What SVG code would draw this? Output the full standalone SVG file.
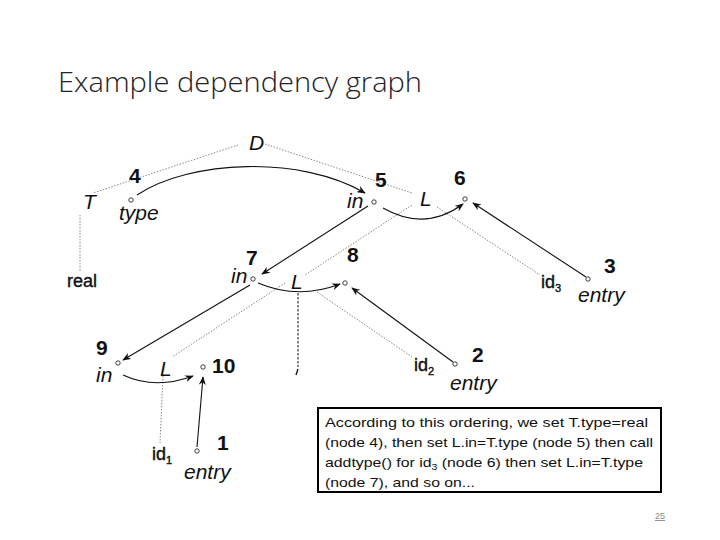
<svg xmlns="http://www.w3.org/2000/svg" width="720" height="540" viewBox="0 0 720 540">
<style>
.title{font-family:"Open Sans","Liberation Sans",sans-serif;font-weight:300;font-size:28px;fill:#222}
.it{font-family:"Liberation Sans","DejaVu Sans",sans-serif;font-style:italic;font-size:21px;fill:#111}
.num{font-family:"Liberation Sans","DejaVu Sans",sans-serif;font-weight:bold;font-size:21px;fill:#111}
.id{font-family:"Liberation Sans","DejaVu Sans",sans-serif;font-size:18px;fill:#111;stroke:#111;stroke-width:0.4}
.sub{font-size:11px}
.box{font-family:"Liberation Sans","DejaVu Sans",sans-serif;font-size:13.5px;fill:#111}
.dot{fill:none;stroke:#888;stroke-width:1;stroke-dasharray:1.5 1.5}
.arr{fill:none;stroke:#111;stroke-width:1.1;marker-end:url(#ah)}
.att{fill:#fff;stroke:#111;stroke-width:0.8}
</style>
<defs>
<marker id="ah" viewBox="0 0 10 8" refX="9" refY="4" markerWidth="9" markerHeight="7" orient="auto" markerUnits="userSpaceOnUse">
<path d="M0,0 L10,4 L0,8 L3,4 z" fill="#111"/>
</marker>
</defs>
<rect width="720" height="540" fill="#fff"/>
<text class="title" x="58" y="92" textLength="364" lengthAdjust="spacingAndGlyphs">Example dependency graph</text>

<g id="connectors">
<path class="dot" d="M238,145 L93,193"/>
<path class="dot" d="M80,215 L80,272"/>
<path class="dot" d="M265,144 L412,193"/>
<path class="dot" d="M437,207 L540,275"/>
<path class="dot" d="M412,205 L305,275"/>
<path class="dot" d="M317,292 L412,357"/>
<path class="dot" d="M285,283 L172,357"/>
<path class="dot" d="M163,376 L160,443"/>
<path d="M298,293 L298,367" fill="none" stroke="#111" stroke-width="1" stroke-dasharray="2.5 1.5"/>
<path d="M298,369 L296,375" fill="none" stroke="#111" stroke-width="1.3"/>
<path class="arr" d="M137,195 C190,160 300,155 365,193"/>
<path class="arr" d="M383,208 Q425,232 463,204"/>
<path class="arr" d="M586,277 L473,203"/>
<path class="arr" d="M368,206 L262,274"/>
<path class="arr" d="M258,283 Q298,300 340,284"/>
<path class="arr" d="M453,362 L352,288"/>
<path class="arr" d="M250,285 L123,360"/>
<path class="arr" d="M123,375 Q155,390 193,376"/>
<path class="arr" d="M197,447 L203,377"/>
</g>

<g id="D"><text class="it" x="249" y="150">D</text></g>
<g id="T"><text class="it" x="83" y="209">T</text></g>
<g id="n4"><text class="num" x="129" y="183">4</text><circle class="att" cx="131" cy="200" r="2.2"/><text class="it" x="119" y="220" font-size="19">type</text></g>
<g id="real"><text class="id" x="67" y="287">real</text></g>
<g id="n5"><text class="num" x="375" y="187">5</text><text class="it" x="347" y="208" font-size="20">in</text><circle class="att" cx="374" cy="202" r="2.2"/></g>
<g id="L1"><text class="it" x="420" y="206">L</text></g>
<g id="n6"><text class="num" x="454" y="185">6</text><circle class="att" cx="465" cy="199" r="2.2"/></g>
<g id="id3"><text class="id" x="541" y="288">id<tspan class="sub" dy="4">3</tspan></text></g>
<g id="n3"><text class="num" x="604" y="273">3</text><circle class="att" cx="588" cy="279" r="2.2"/><text class="it" x="578" y="302" font-size="20">entry</text></g>
<g id="n7"><text class="num" x="246" y="265">7</text><text class="it" x="231" y="283" font-size="20">in</text><circle class="att" cx="253" cy="279" r="2.2"/></g>
<g id="L2"><text class="it" x="291" y="289">L</text></g>
<g id="n8"><text class="num" x="347" y="262">8</text><circle class="att" cx="345" cy="283" r="2.2"/></g>
<g id="id2"><text class="id" x="414" y="371">id<tspan class="sub" dy="4">2</tspan></text></g>
<g id="n2"><text class="num" x="472" y="362">2</text><circle class="att" cx="455" cy="364" r="2.2"/><text class="it" x="450" y="390" font-size="20">entry</text></g>
<g id="n9"><text class="num" x="96" y="355">9</text><text class="it" x="96" y="382" font-size="20">in</text><circle class="att" cx="118" cy="363" r="2.2"/></g>
<g id="L3"><text class="it" x="160" y="376">L</text></g>
<g id="n10"><text class="num" x="212" y="373">10</text><circle class="att" cx="203" cy="367" r="2.2"/></g>
<g id="id1"><text class="id" x="152" y="460">id<tspan class="sub" dy="4">1</tspan></text></g>
<g id="n1"><text class="num" x="217" y="450">1</text><circle class="att" cx="197" cy="451" r="2.2"/><text class="it" x="184" y="479" font-size="20">entry</text></g>

<g id="note">
<rect x="318" y="408" width="343" height="84" fill="#fff" stroke="#000" stroke-width="2"/>
<text class="box" x="325" y="427" textLength="323" lengthAdjust="spacingAndGlyphs">According to this ordering, we set T.type=real</text>
<text class="box" x="325" y="447" textLength="328" lengthAdjust="spacingAndGlyphs">(node 4), then set L.in=T.type (node 5) then call</text>
<text class="box" x="325" y="467" textLength="318" lengthAdjust="spacingAndGlyphs">addtype() for id<tspan font-size="9" dy="3">3</tspan><tspan dy="-3"> (node 6) then set L.in=T.type</tspan></text>
<text class="box" x="325" y="487" textLength="150" lengthAdjust="spacingAndGlyphs">(node 7), and so on...</text>
</g>
<text x="655" y="519" font-family="Liberation Sans, sans-serif" font-size="9" fill="#888" text-decoration="underline">25</text>
</svg>
